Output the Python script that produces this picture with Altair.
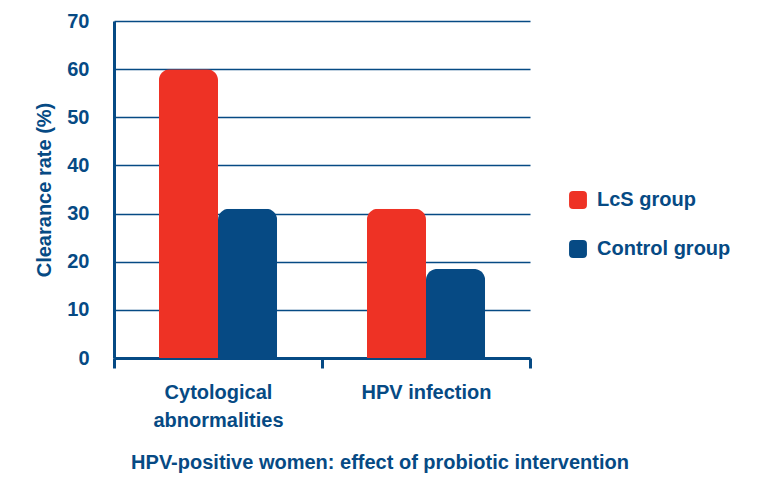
import altair as alt
import pandas as pd

categories = ["Cytological abnormalities", "HPV infection"]
groups = ["LcS group", "Control group"]
lcs_values = [60, 31]
control_values = [31, 18.5]

rows = []
for c, a, b in zip(categories, lcs_values, control_values):
    rows.append({"category": c, "group": groups[0], "rate": a})
    rows.append({"category": c, "group": groups[1], "rate": b})
df = pd.DataFrame(rows)

BLUE = "#064a84"
RED = "#ee3225"
FONT = "Liberation Sans"
FS = 20
rounded = "M -0.55,-1 L 0.55,-1 Q 1,-1 1,-0.55 L 1,0.55 Q 1,1 0.55,1 L -0.55,1 Q -1,1 -1,0.55 L -1,-0.55 Q -1,-1 -0.55,-1 Z"

chart = alt.Chart(df).mark_bar(
    cornerRadiusTopLeft=11, cornerRadiusTopRight=11
).encode(
    x=alt.X("category:N", sort=categories,
            scale=alt.Scale(paddingInner=0, paddingOuter=0),
            axis=alt.Axis(title=None, labelAngle=0, tickBand="extent",
                          tickSize=10, tickWidth=3, tickColor=BLUE,
                          domainColor=BLUE, domainWidth=3, grid=False,
                          labelColor=BLUE, labelFont=FONT, labelFontSize=FS,
                          labelFontWeight="bold", labelPadding=14,
                          labelLineHeight=28, labelBaseline="top",
                          labelExpr="datum.value == 'Cytological abnormalities' ? ['Cytological', 'abnormalities'] : datum.label")),
    xOffset=alt.XOffset("group:N", sort=groups,
                        scale=alt.Scale(paddingInner=0, paddingOuter=0.76)),
    y=alt.Y("rate:Q", scale=alt.Scale(domain=[0, 70], nice=False),
            axis=alt.Axis(title="Clearance rate (%)", values=list(range(0, 80, 10)),
                          ticks=False, domainColor=BLUE, domainWidth=3,
                          gridColor=BLUE, gridWidth=1.5, grid=True,
                          labelColor=BLUE, labelFont=FONT, labelFontSize=FS,
                          labelFontWeight="bold", labelPadding=25,
                          titleColor=BLUE, titleFont=FONT, titleFontSize=FS,
                          titleFontWeight="bold", titlePadding=12)),
    color=alt.Color("group:N", sort=groups,
                    scale=alt.Scale(domain=groups, range=[RED, BLUE]),
                    legend=alt.Legend(title=None, orient="none", legendX=454, legendY=169,
                                      symbolType=rounded, symbolSize=320,
                                      symbolStrokeWidth=0, symbolOpacity=1,
                                      labelColor=BLUE, labelFont=FONT, labelFontSize=FS,
                                      labelFontWeight="bold", labelOffset=9,
                                      rowPadding=29)),
).properties(
    width=416, height=337,
    title=alt.TitleParams("HPV-positive women: effect of probiotic intervention",
                          orient="bottom", anchor="middle", frame="group", dx=58,
                          offset=23, color=BLUE, font=FONT, fontSize=FS,
                          fontWeight="bold"),
    padding={"left": 106, "top": 13, "right": 200, "bottom": 119},
    autosize=alt.AutoSizeParams(type="none"),
).configure_view(stroke=None)

chart.save("out.html", embed_options={"renderer": "svg", "actions": False})
